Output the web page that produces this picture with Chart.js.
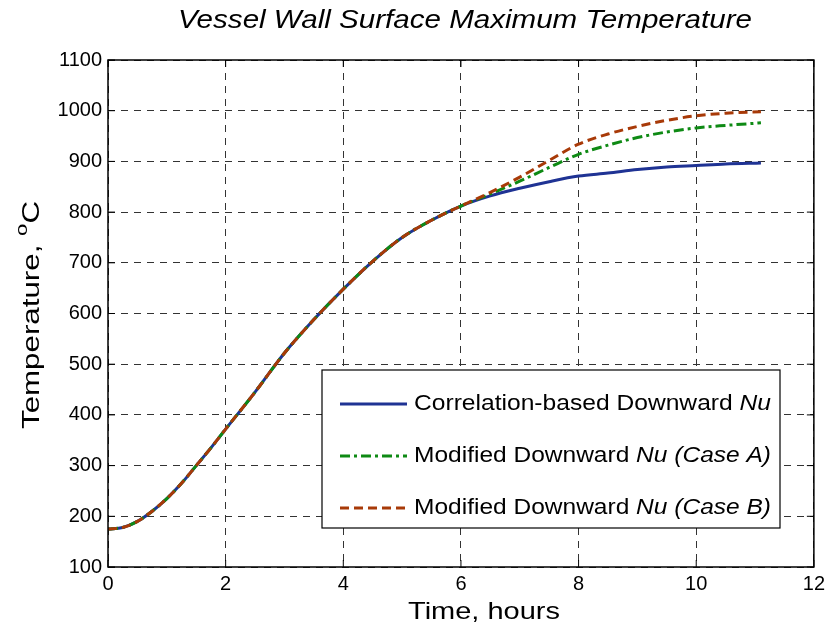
<!DOCTYPE html>
<html>
<head>
<meta charset="utf-8">
<script src="https://cdn.jsdelivr.net/npm/chart.js@4/dist/chart.umd.min.js"></script>
<style>
  body { margin: 0; background: #fff; }
  #wrap { width: 830px; height: 634px; }
</style>
</head>
<body>
<div id="wrap"><canvas id="chartContainer"></canvas></div>
<script>
// time in hours
let hours = [0, 0.25, 0.5, 0.75, 1, 1.25, 1.5, 1.75, 2, 2.5, 3, 3.5, 4, 4.5, 5, 5.5, 6, 6.5, 7, 7.5, 8, 8.5, 9, 9.5, 10, 10.5, 11.1];

// temperatures, deg C
let correlationNu = [175, 178, 190, 210, 235, 265, 300, 335, 372, 445, 522, 588, 648, 703, 750, 784, 812, 832, 847, 860, 871, 877, 884, 889, 892, 895, 897];
let caseA = [175, 178, 190, 210, 235, 265, 300, 335, 372, 445, 522, 588, 648, 703, 750, 784, 812, 836, 861, 888, 914, 932, 947, 958, 966, 971, 976];
let caseB = [175, 178, 190, 210, 235, 265, 300, 335, 372, 445, 522, 588, 648, 703, 750, 784, 812, 839, 869, 902, 934, 954, 969, 981, 990, 995, 998];

let yTicks = [100, 200, 300, 400, 500, 600, 700, 800, 900, 1000, 1100];
let xTicks = [0, 2, 4, 6, 8, 10, 12];

function toPoints(ys) {
  return hours.map((h, i) => ({ x: h, y: ys[i] }));
}

const FONT = 'Arial, "Liberation Sans", sans-serif';

// draws a list of [text, font] runs, squeezed/stretched to a given total width
function drawRuns(ctx, runs, cx, cy, width) {
  let total = 0;
  for (const r of runs) { ctx.font = r[1]; total += ctx.measureText(r[0]).width; }
  const sx = width / total;
  ctx.save();
  ctx.translate(cx, cy);
  ctx.scale(sx, 1);
  ctx.textAlign = 'left';
  ctx.textBaseline = 'middle';
  let x = -total / 2;
  for (const r of runs) {
    ctx.font = r[1];
    ctx.fillText(r[0], x, r[2] || 0);
    x += ctx.measureText(r[0]).width;
  }
  ctx.restore();
}

// frame, inner ticks, titles and the boxed legend
const decorations = {
  id: 'decorations',
  afterDraw(chart) {
    const ctx = chart.ctx;
    const a = chart.chartArea;
    const xs = chart.scales.x, ys = chart.scales.y;
    ctx.save();
    ctx.strokeStyle = '#000';
    ctx.lineWidth = 1.5;
    ctx.setLineDash([]);
    ctx.strokeRect(a.left, a.top, a.right - a.left, a.bottom - a.top);
    ctx.lineWidth = 1;
    ctx.beginPath();
    for (const t of xTicks) {
      const px = xs.getPixelForValue(t);
      ctx.moveTo(px, a.bottom); ctx.lineTo(px, a.bottom - 7);
      ctx.moveTo(px, a.top); ctx.lineTo(px, a.top + 7);
    }
    for (const t of yTicks) {
      const py = ys.getPixelForValue(t);
      ctx.moveTo(a.left, py); ctx.lineTo(a.left + 7, py);
      ctx.moveTo(a.right, py); ctx.lineTo(a.right - 7, py);
    }
    ctx.stroke();

    ctx.fillStyle = '#000';
    // title
    drawRuns(ctx, [['Vessel Wall Surface Maximum Temperature', 'italic 25px ' + FONT]], 465, 21, 574);
    // x title
    drawRuns(ctx, [['Time, hours', '24px ' + FONT]], 484, 612, 152);
    // y title with superscript o
    ctx.save();
    ctx.translate(32, 315);
    ctx.rotate(-Math.PI / 2);
    drawRuns(ctx, [['Temperature, ', '24px ' + FONT], ['o', '17px ' + FONT, -10], ['C', '24px ' + FONT]], 0, 0, 228);
    ctx.restore();

    // legend box
    const bx = 322, by = 370, bw = 458, bh = 158;
    ctx.fillStyle = '#fff';
    ctx.fillRect(bx, by, bw, bh);
    ctx.strokeStyle = '#000';
    ctx.lineWidth = 1.2;
    ctx.strokeRect(bx, by, bw, bh);
    const labels = [
      ['Correlation-based Downward ', 'Nu', ''],
      ['Modified Downward ', 'Nu', ' (Case A)'],
      ['Modified Downward ', 'Nu', ' (Case B)']
    ];
    const widths = [357, 357, 357];
    chart.data.datasets.forEach((ds, i) => {
      const ly = by + 34 + i * 52;
      ctx.strokeStyle = ds.borderColor;
      ctx.lineWidth = 3;
      ctx.setLineDash(ds.borderDash || []);
      ctx.beginPath();
      ctx.moveTo(bx + 18, ly);
      ctx.lineTo(bx + 85, ly);
      ctx.stroke();
      ctx.setLineDash([]);
      ctx.fillStyle = '#000';
      const p = labels[i];
      drawRuns(ctx, [[p[0], '22px ' + FONT], [p[1], 'italic 22px ' + FONT], [p[2], 'italic 22px ' + FONT]],
        bx + 92 + widths[i] / 2, ly, widths[i]);
    });
    ctx.restore();
  }
};

let chart = new Chart(document.getElementById('chartContainer'), {
  type: 'line',
  data: {
    datasets: [
      {
        label: 'Correlation-based Downward Nu',
        data: toPoints(correlationNu),
        borderColor: '#1f3394',
        borderWidth: 3,
        order: 3
      },
      {
        label: 'Modified Downward Nu (Case A)',
        data: toPoints(caseA),
        borderColor: '#0e8a14',
        borderWidth: 3,
        borderDash: [10, 4, 3, 4],
        order: 2
      },
      {
        label: 'Modified Downward Nu (Case B)',
        data: toPoints(caseB),
        borderColor: '#a83a08',
        borderWidth: 3,
        borderDash: [9, 5],
        order: 1
      }
    ]
  },
  options: {
    responsive: true,
    maintainAspectRatio: false,
    animation: false,
    layout: { padding: { left: 0, right: 12, top: 60, bottom: 0 } },
    elements: { point: { radius: 0 }, line: { tension: 0.4, cubicInterpolationMode: 'monotone' } },
    plugins: {
      legend: { display: false },
      title: { display: false },
      tooltip: { enabled: false }
    },
    scales: {
      x: {
        type: 'linear',
        min: 0,
        max: 12,
        afterFit(scale) { scale.height = 67; },
        afterBuildTicks(scale) { scale.ticks = xTicks.map(v => ({ value: v })); },
        ticks: { color: '#000', font: { family: FONT, size: 20 }, padding: 5, callback: v => String(v) },
        grid: { color: '#333', lineWidth: 1, drawTicks: false },
        border: { display: false, dash: [7, 6] }
      },
      y: {
        min: 100,
        max: 1100,
        afterFit(scale) { scale.width = 108; },
        afterBuildTicks(scale) { scale.ticks = yTicks.map(v => ({ value: v })); },
        ticks: { color: '#000', font: { family: FONT, size: 20 }, padding: 6, callback: v => String(v) },
        grid: { color: '#333', lineWidth: 1, drawTicks: false },
        border: { display: false, dash: [7, 6] }
      }
    }
  },
  plugins: [decorations]
});
</script>
</body>
</html>
